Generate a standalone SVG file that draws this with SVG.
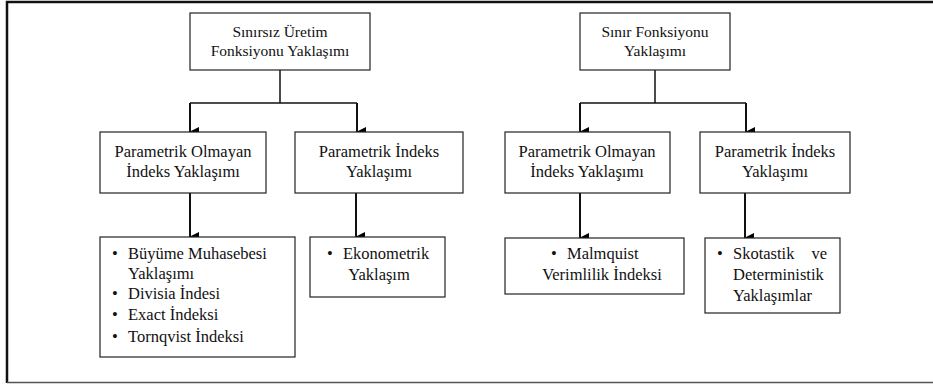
<svg xmlns="http://www.w3.org/2000/svg" width="933" height="385" viewBox="0 0 933 385">
<defs>
<marker id="ah" markerWidth="10" markerHeight="10" refX="5" refY="9" orient="auto" markerUnits="userSpaceOnUse" viewBox="0 0 10 10">
<path d="M0,0 L10,0 L5,10 Z" fill="#000"/>
</marker>
</defs>
<style>
.box{fill:#fff;stroke:#222;stroke-width:1.2}
.c{text-anchor:middle}
.ln{stroke:#111;stroke-width:1.5;fill:none}
.ar{stroke:#111;stroke-width:2;fill:none;marker-end:url(#ah)}
</style>
<rect width="933" height="385" fill="#fff"/>
<g id="frame">
<path d="M7,383 L7,2 L933,2" stroke="#111" stroke-width="2.5" fill="none"/>
<line x1="7" y1="382.5" x2="933" y2="382.5" stroke="#555" stroke-width="1.5"/>
</g>
<g id="connectors">
<path class="ln" d="M280,70 V103 M190,103 H357"/>
<path class="ar" d="M190,103 V132"/>
<path class="ar" d="M357,103 V132"/>
<path class="ar" d="M190,193 V237"/>
<path class="ar" d="M356,193 V237"/>
<path class="ln" d="M655,70 V103 M580,103 H746"/>
<path class="ar" d="M580,103 V132"/>
<path class="ar" d="M746,103 V132"/>
<path class="ar" d="M580,193 V238"/>
<path class="ar" d="M745,193 V238"/>
</g>
<g id="nodes" font-family="Liberation Serif, Times New Roman, serif" font-size="16.5" fill="#111">
<g id="n1" font-size="15.5">
<rect class="box" x="190" y="13" width="180" height="57"/>
<text class="c" x="280" y="37">Sınırsız Üretim</text>
<text class="c" x="280" y="56">Fonksiyonu Yaklaşımı</text>
</g>
<g id="n2">
<rect class="box" x="100" y="132" width="166" height="61"/>
<text class="c" x="183" y="157">Parametrik Olmayan</text>
<text class="c" x="183" y="177">İndeks Yaklaşımı</text>
</g>
<g id="n3">
<rect class="box" x="295" y="132" width="168" height="61"/>
<text class="c" x="379" y="157">Parametrik İndeks</text>
<text class="c" x="379" y="177">Yaklaşımı</text>
</g>
<g id="n4">
<rect class="box" x="100" y="237" width="195" height="120"/>
<text x="112" y="259">•</text>
<text x="128" y="259">Büyüme Muhasebesi</text>
<text x="128" y="279">Yaklaşımı</text>
<text x="112" y="299">•</text>
<text x="128" y="299">Divisia İndesi</text>
<text x="112" y="320">•</text>
<text x="128" y="320">Exact İndeksi</text>
<text x="112" y="342">•</text>
<text x="128" y="342">Tornqvist İndeksi</text>
</g>
<g id="n5">
<rect class="box" x="310" y="237" width="135" height="60"/>
<text x="327" y="259">•</text>
<text x="343" y="259">Ekonometrik</text>
<text class="c" x="379" y="280">Yaklaşım</text>
</g>
<g id="n6" font-size="15.5">
<rect class="box" x="580" y="13" width="150" height="57"/>
<text class="c" x="655" y="37">Sınır Fonksiyonu</text>
<text class="c" x="655" y="56">Yaklaşımı</text>
</g>
<g id="n7">
<rect class="box" x="505" y="132" width="165" height="61"/>
<text class="c" x="587" y="157">Parametrik Olmayan</text>
<text class="c" x="587" y="177">İndeks Yaklaşımı</text>
</g>
<g id="n8">
<rect class="box" x="700" y="132" width="150" height="61"/>
<text class="c" x="775" y="157">Parametrik İndeks</text>
<text class="c" x="775" y="177">Yaklaşımı</text>
</g>
<g id="n9">
<rect class="box" x="505" y="238" width="179" height="56"/>
<text x="551" y="259">•</text>
<text x="567" y="259">Malmquist</text>
<text class="c" x="602" y="280">Verimlilik İndeksi</text>
</g>
<g id="n10">
<rect class="box" x="705" y="238" width="135" height="75"/>
<text x="717" y="259">•</text>
<text x="733" y="259">Skotastik</text>
<text x="827" y="259" text-anchor="end">ve</text>
<text x="733" y="280">Deterministik</text>
<text x="733" y="301">Yaklaşımlar</text>
</g>
</g>
</svg>
